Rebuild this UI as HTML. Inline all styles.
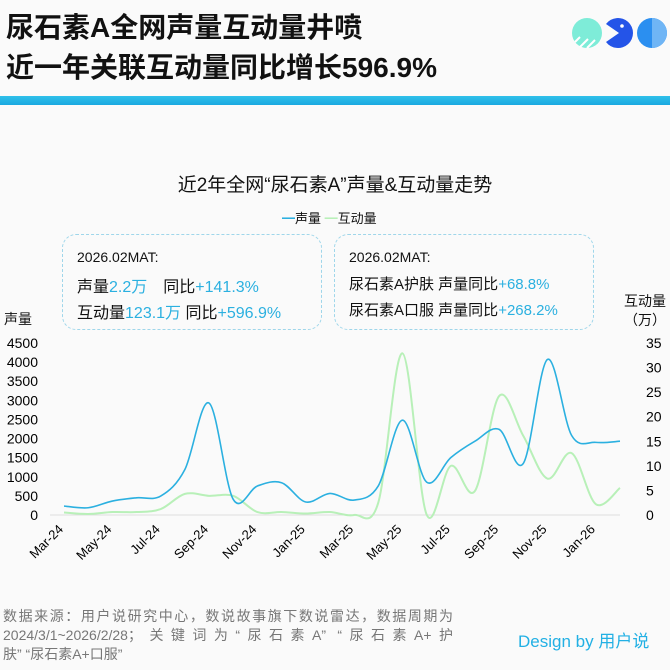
<!DOCTYPE html>
<html><head><meta charset="utf-8">
<style>
body{margin:0;background:#fafafa;}
#root{position:relative;width:670px;height:670px;overflow:hidden;background:#fafafa;font-family:"Liberation Sans","Noto Sans CJK SC",sans-serif;color:#111;}
.t{position:absolute;white-space:nowrap;}
.box{position:absolute;border:1.5px dashed #9fd6ea;border-radius:14px;}
.bl{color:#2bb0e0;}
</style></head>
<body>
<div id="root">
<div class="t" style="left:6px;top:8px;font-size:28px;font-weight:bold;line-height:40px;">尿石素A全网声量互动量井喷<br>近一年关联互动量同比增长596.9%</div>
<svg style="position:absolute;left:570px;top:17px" width="100" height="32">
<circle cx="17" cy="16" r="15" fill="#7eecd8"/>
<path d="M5 25 L10 20 M10 30 L18 22 M17 31 L25 23" stroke="#fff" stroke-width="2"/>
<path d="M49 16 L36 7 A15 15 0 1 1 36 25 Z" fill="#2454e8"/><circle cx="52" cy="9" r="1.8" fill="#fff"/>
<circle cx="82" cy="16" r="15" fill="#2b8ff0"/><path d="M82 1 A15 15 0 0 1 82 31Z" fill="#6fb5f5"/>
</svg>
<div style="position:absolute;left:0;top:96px;width:670px;height:9px;background:linear-gradient(#2fc0ea,#1aa8e0);"></div>
<div class="t" style="left:0;width:670px;text-align:center;top:170px;font-size:19px;">近2年全网“尿石素A”声量&amp;互动量走势</div>
<div class="t" style="left:282px;top:208px;font-size:13px;"><span style="color:#2bb0e0">━</span>声量 <span style="color:#b8f0b8">━</span>互动量</div>
<div class="box" style="left:62px;top:234px;width:258px;height:94px;">
<div class="t" style="left:14px;top:14px;font-size:14px;">2026.02MAT:</div>
<div class="t" style="left:14px;top:38px;font-size:16px;">声量<span class="bl">2.2万</span>　同比<span class="bl">+141.3%</span></div>
<div class="t" style="left:14px;top:64px;font-size:16px;">互动量<span class="bl">123.1万</span>  同比<span class="bl">+596.9%</span></div></div>
<div class="box" style="left:334px;top:234px;width:258px;height:94px;">
<div class="t" style="left:14px;top:14px;font-size:14px;">2026.02MAT:</div>
<div class="t" style="left:14px;top:38px;font-size:15px;">尿石素A护肤 声量同比<span class="bl">+68.8%</span></div>
<div class="t" style="left:14px;top:64px;font-size:15px;">尿石素A口服 声量同比<span class="bl">+268.2%</span></div></div>
<div class="t" style="left:4px;top:309px;font-size:14px;">声量</div>
<div class="t" style="left:624px;top:292px;font-size:14px;line-height:19px;text-align:center;">互动量<br>（万）</div>
<svg id="ch" style="position:absolute;left:0;top:0" width="670" height="670"></svg>
<div style="position:absolute;left:3px;top:607px;width:450px;font-size:14px;line-height:19px;color:#777;text-align:justify;text-align-last:justify;">数据来源：用户说研究中心，数说故事旗下数说雷达，数据周期为<br>2024/3/1~2026/2/28；关键词为“尿石素A” “尿石素A+护<br><span style="display:inline-block;text-align-last:left">肤” “尿石素A+口服”</span></div>
<div class="t" style="left:518px;top:627px;font-size:17px;color:#22b0e4;">Design by 用户说</div>
</div>
<script>
const months=["Mar-24","Apr-24","May-24","Jun-24","Jul-24","Aug-24","Sep-24","Oct-24","Nov-24","Dec-24","Jan-25","Feb-25","Mar-25","Apr-25","May-25","Jun-25","Jul-25","Aug-25","Sep-25","Oct-25","Nov-25","Dec-25","Jan-26","Feb-26"];
const volume=[235,190,365,450,495,1190,2930,410,760,845,340,565,390,760,2480,860,1500,1930,2240,1350,4070,2080,1900,1930];
const engagement=[0.5,0.2,0.6,0.6,1.2,4.3,3.9,3.9,0.6,0.6,0.3,0.6,0,2.5,32.9,0.1,10,4.9,24.2,16.1,7.4,12.6,2.2,5.5];
const leftTicks=[0,500,1000,1500,2000,2500,3000,3500,4000,4500];
const rightTicks=[0,5,10,15,20,25,30,35];
const NS="http://www.w3.org/2000/svg",svg=document.getElementById('ch');
const X0=64,X1=620,Y0=515,Y1=343;
const x=i=>X0+(X1-X0)*i/(months.length-1);
const yl=v=>Y0-(Y0-Y1)*v/4500;
const yr=v=>Y0-(Y0-Y1)*v/35;
function mk(t,a,txt){const e=document.createElementNS(NS,t);for(const k in a)e.setAttribute(k,a[k]);if(txt!==undefined)e.textContent=txt;svg.appendChild(e);return e;}
const ax=mk('line',{x1:50,x2:620,y1:Y0,y2:Y0,stroke:'#ddd'});


leftTicks.forEach(v=>{const e=mk('text',{x:38,y:yl(v)+5,'text-anchor':'end','font-size':14,'font-family':'Liberation Sans, sans-serif'},v);

});
rightTicks.forEach(v=>{const e=mk('text',{x:646,y:yr(v)+5,'text-anchor':'start','font-size':14,'font-family':'Liberation Sans, sans-serif'},v);

});
months.forEach((m,i)=>{if(i%2)return;const e=mk('text',{x:x(i),y:530,'text-anchor':'end','font-size':13,'font-family':'Liberation Sans, sans-serif',transform:`rotate(-45 ${x(i)} 530)`},m);

});
function path(pts){let d=`M${pts[0][0]},${pts[0][1]}`;for(let i=0;i<pts.length-1;i++){const p0=pts[Math.max(i-1,0)],p1=pts[i],p2=pts[i+1],p3=pts[Math.min(i+2,pts.length-1)];d+=` C${p1[0]+(p2[0]-p0[0])/6},${p1[1]+(p2[1]-p0[1])/6} ${p2[0]-(p3[0]-p1[0])/6},${p2[1]-(p3[1]-p1[1])/6} ${p2[0]},${p2[1]}`;}return d;}
const g=mk('path',{d:path(engagement.map((v,i)=>[x(i),yr(v)])),fill:'none',stroke:'#b8f0b8','stroke-width':2});


const b=mk('path',{d:path(volume.map((v,i)=>[x(i),yl(v)])),fill:'none',stroke:'#2bb0e0','stroke-width':1.6});


</script>
</body></html>
